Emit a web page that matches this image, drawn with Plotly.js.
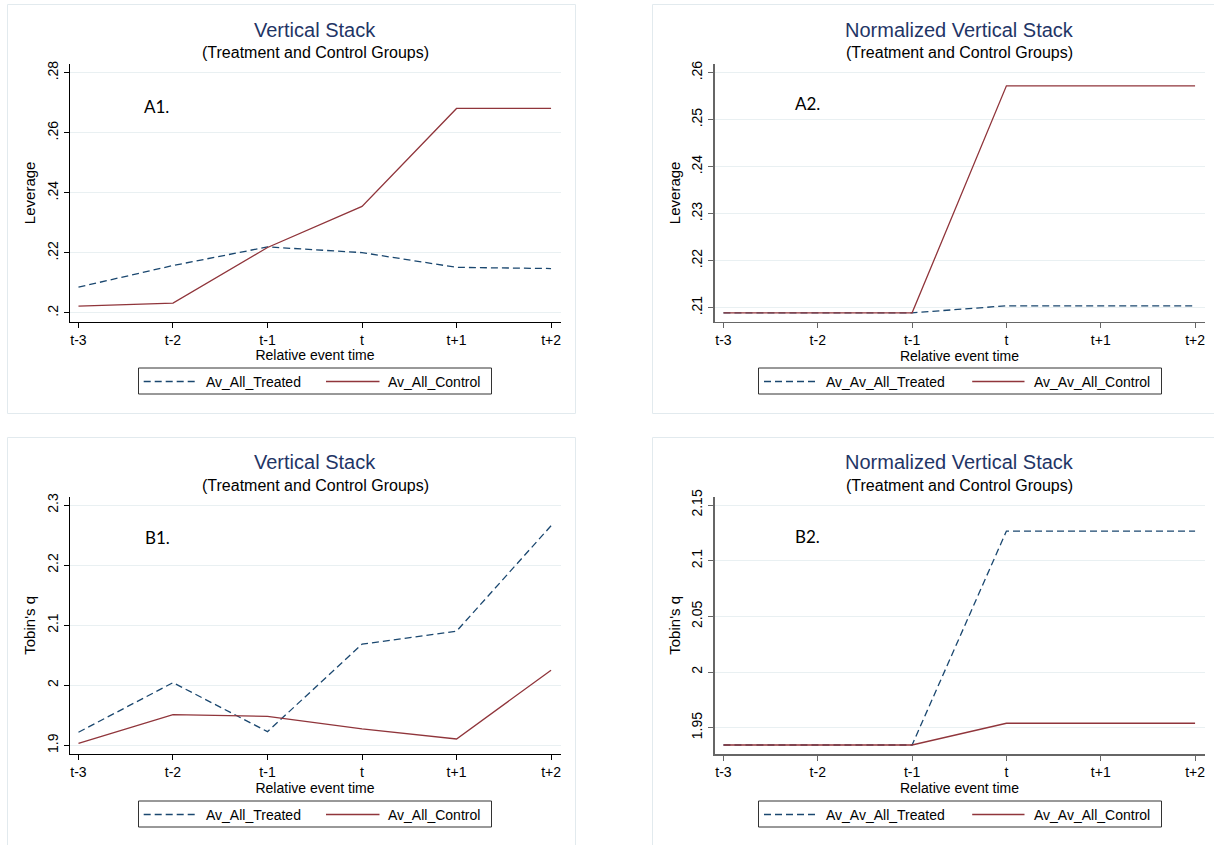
<!DOCTYPE html>
<html>
<head>
<meta charset="utf-8">
<script src="https://cdn.plot.ly/plotly-3.0.1.min.js"></script>
<style>
  html, body { margin: 0; padding: 0; background: #ffffff; }
  #chart { width: 1214px; height: 845px; }
</style>
</head>
<body>
<div id="chart"></div>
<script>
// Relative event time categories
const periods = ["t-3", "t-2", "t-1", "t", "t+1", "t+2"];

// Panel A1: leverage, vertical stack
const levTreated = [0.2086, 0.2158, 0.2220, 0.2201, 0.2152, 0.2148];
const levControl = [0.2023, 0.2033, 0.2218, 0.2355, 0.2681, 0.2681];

// Panel A2: leverage, normalized vertical stack
const normLevTreated = [0.2089, 0.2089, 0.2089, 0.2104, 0.2104, 0.2104];
const normLevControl = [0.2089, 0.2089, 0.2089, 0.2572, 0.2572, 0.2572];

// Panel B1: Tobin's q, vertical stack
const qTreated = [1.9217, 2.0043, 1.9227, 2.0683, 2.0900, 2.2655];
const qControl = [1.9033, 1.9510, 1.9483, 1.9273, 1.9105, 2.0250];

// Panel B2: Tobin's q, normalized vertical stack
const normQTreated = [1.9345, 1.9345, 1.9345, 2.1266, 2.1266, 2.1266];
const normQControl = [1.9345, 1.9345, 1.9345, 1.9540, 1.9540, 1.9540];

// Y tick values and labels
const levTicks = [0.20, 0.22, 0.24, 0.26, 0.28];
const levTickText = [".2", ".22", ".24", ".26", ".28"];
const normLevTicks = [0.21, 0.22, 0.23, 0.24, 0.25, 0.26];
const normLevTickText = [".21", ".22", ".23", ".24", ".25", ".26"];
const qTicks = [1.9, 2.0, 2.1, 2.2, 2.3];
const qTickText = ["1.9", "2", "2.1", "2.2", "2.3"];
const normQTicks = [1.95, 2.0, 2.05, 2.1, 2.15];
const normQTickText = ["1.95", "2", "2.05", "2.1", "2.15"];

// Legend labels
const namesPlain = ["Av_All_Treated", "Av_All_Control"];
const namesNorm = ["Av_Av_All_Treated", "Av_Av_All_Control"];

const W = 1214, H = 845;
const FONT = "Liberation Sans, Arial, Helvetica, sans-serif";
const NAVY = "#1a476f";
const MAROON = "#90353b";
const TREATED_DASH = "7px,4px";
const px = v => v / W;          // horizontal pixel -> paper
const py = v => 1 - v / H;      // vertical pixel -> paper

// Panel geometry (pixels); key = legend box and its entries
const panels = [
  { id: "", x0: 69.5, x1: 560.5, y0: 64, y1: 321.7, range: [0.1971, 0.2829],
    ticks: levTicks, tickText: levTickText, yTitle: "Leverage",
    treated: levTreated, control: levControl, names: namesPlain,
    title: "Vertical Stack", titleY: 30, subY: 52.5, tag: "A1.", tagX: 156, tagY: 106,
    key: { x0: 138.5, x1: 491.5, y0: 368, y1: 394, l1: [143.7, 195], t1: 206, l2: [326, 379.5], t2: 388 },
    axisColor: "#000000", axisWidth: 1 },
  { id: "2", x0: 714.5, x1: 1204.5, y0: 64, y1: 321.7, range: [0.20702, 0.26185],
    ticks: normLevTicks, tickText: normLevTickText, yTitle: "Leverage",
    treated: normLevTreated, control: normLevControl, names: namesNorm,
    title: "Normalized Vertical Stack", titleY: 30, subY: 52.5, tag: "A2.", tagX: 807, tagY: 103,
    key: { x0: 758.5, x1: 1161.5, y0: 368, y1: 394, l1: [764, 818.4], t1: 825.5, l2: [972.2, 1024.5], t2: 1033.5 },
    axisColor: "#666666", axisWidth: 1.5 },
  { id: "3", x0: 69.5, x1: 560.5, y0: 496.7, y1: 754, range: [1.8855, 2.3139],
    ticks: qTicks, tickText: qTickText, yTitle: "Tobin's q",
    treated: qTreated, control: qControl, names: namesPlain,
    title: "Vertical Stack", titleY: 462, subY: 485, tag: "B1.", tagX: 157, tagY: 537.5,
    key: { x0: 138.5, x1: 491.5, y0: 801, y1: 827, l1: [143.7, 195], t1: 206, l2: [326, 379.5], t2: 388 },
    axisColor: "#000000", axisWidth: 1 },
  { id: "4", x0: 714.5, x1: 1204.5, y0: 496.7, y1: 754, range: [1.9264, 2.1575],
    ticks: normQTicks, tickText: normQTickText, yTitle: "Tobin's q",
    treated: normQTreated, control: normQControl, names: namesNorm,
    title: "Normalized Vertical Stack", titleY: 462, subY: 485, tag: "B2.", tagX: 808, tagY: 536,
    key: { x0: 758.5, x1: 1161.5, y0: 801, y1: 827, l1: [764, 818.4], t1: 825.5, l2: [972.2, 1024.5], t2: 1033.5 },
    axisColor: "#666666", axisWidth: 1.5 }
];

// Outer frames around each graph region
const frames = [
  [7.5, 4.5, 575.5, 413.5],
  [652.5, 4.5, 1224, 413.5],
  [7.5, 437.5, 575.5, 860],
  [652.5, 437.5, 1224, 860]
];

const traces = [];
const layout = {
  width: W, height: H,
  margin: { l: 0, r: 0, t: 0, b: 0 },
  paper_bgcolor: "#ffffff",
  plot_bgcolor: "#ffffff",
  font: { family: FONT, color: "#000000", size: 14 },
  showlegend: false,
  annotations: [],
  shapes: frames.map(f => ({
    type: "rect", xref: "paper", yref: "paper",
    x0: px(f[0]), x1: px(f[2]), y0: py(f[1]), y1: py(f[3]),
    line: { color: "#e2eaee", width: 1 }, fillcolor: "rgba(0,0,0,0)", layer: "below"
  }))
};

panels.forEach(p => {
  const xa = "x" + p.id, ya = "y" + p.id;
  traces.push({
    type: "scatter", mode: "lines", x: periods, y: p.treated, name: p.names[0],
    xaxis: xa, yaxis: ya,
    line: { color: NAVY, width: 1.3, dash: TREATED_DASH }, hoverinfo: "x+y+name"
  });
  traces.push({
    type: "scatter", mode: "lines", x: periods, y: p.control, name: p.names[1],
    xaxis: xa, yaxis: ya,
    line: { color: MAROON, width: 1.3 }, hoverinfo: "x+y+name"
  });

  layout["xaxis" + p.id] = {
    domain: [px(p.x0), px(p.x1)],
    anchor: ya,
    type: "category",
    range: [-0.095, 5.1],
    showgrid: false, zeroline: false,
    showline: true, linecolor: p.axisColor, linewidth: p.axisWidth,
    ticks: "outside", ticklen: 5, tickwidth: 1, tickcolor: p.axisColor,
    tickfont: { size: 14, family: FONT, color: "#000000" },
    title: { text: "Relative event time", font: { size: 14, family: FONT, color: "#000000" }, standoff: 0 },
    fixedrange: true
  };
  layout["yaxis" + p.id] = {
    domain: [py(p.y1), py(p.y0)],
    anchor: xa,
    range: p.range,
    tickmode: "array", tickvals: p.ticks, ticktext: p.tickText,
    tickangle: -90,
    showgrid: true, gridcolor: "#e9f0f2", gridwidth: 1,
    zeroline: false,
    showline: true, linecolor: p.axisColor, linewidth: p.axisWidth,
    ticks: "outside", ticklen: 5, tickwidth: 1, tickcolor: p.axisColor,
    tickfont: { size: 14, family: FONT, color: "#000000" },
    title: { text: p.yTitle, font: { size: 15, family: FONT, color: "#000000" }, standoff: 5 },
    fixedrange: true
  };

  const cx = px((p.x0 + p.x1) / 2);
  layout.annotations.push({
    xref: "paper", yref: "paper", x: cx, y: py(p.titleY), xanchor: "center", yanchor: "middle",
    text: p.title, showarrow: false, font: { size: 20, family: FONT, color: "#1f3566" }
  });
  layout.annotations.push({
    xref: "paper", yref: "paper", x: cx, y: py(p.subY), xanchor: "center", yanchor: "middle",
    text: "(Treatment and Control Groups)", showarrow: false, font: { size: 16, family: FONT, color: "#000000" }
  });
  layout.annotations.push({
    xref: "paper", yref: "paper", x: px(p.tagX), y: py(p.tagY), xanchor: "center", yanchor: "middle",
    text: p.tag, showarrow: false, font: { size: 17, family: "Lato, Open Sans, sans-serif", color: "#000000" }
  });

  // Key below the plot: framed box with a line sample and label per series
  const k = p.key;
  const ky = py((k.y0 + k.y1) / 2 + 0.5);
  layout.shapes.push({
    type: "rect", xref: "paper", yref: "paper",
    x0: px(k.x0), x1: px(k.x1), y0: py(k.y0), y1: py(k.y1),
    line: { color: "#333333", width: 1 }, fillcolor: "#ffffff"
  });
  layout.shapes.push({
    type: "line", xref: "paper", yref: "paper",
    x0: px(k.l1[0]), x1: px(k.l1[1]), y0: ky, y1: ky,
    line: { color: NAVY, width: 1.3, dash: TREATED_DASH }
  });
  layout.shapes.push({
    type: "line", xref: "paper", yref: "paper",
    x0: px(k.l2[0]), x1: px(k.l2[1]), y0: ky, y1: ky,
    line: { color: MAROON, width: 1.3 }
  });
  [[k.t1, p.names[0]], [k.t2, p.names[1]]].forEach(([tx, label]) => {
    layout.annotations.push({
      xref: "paper", yref: "paper", x: px(tx - 2), y: ky, xanchor: "left", yanchor: "middle",
      text: label, showarrow: false, font: { size: 14, family: FONT, color: "#000000" }
    });
  });
});

Plotly.newPlot("chart", traces, layout, { displayModeBar: false, staticPlot: true });
</script>
</body>
</html>
